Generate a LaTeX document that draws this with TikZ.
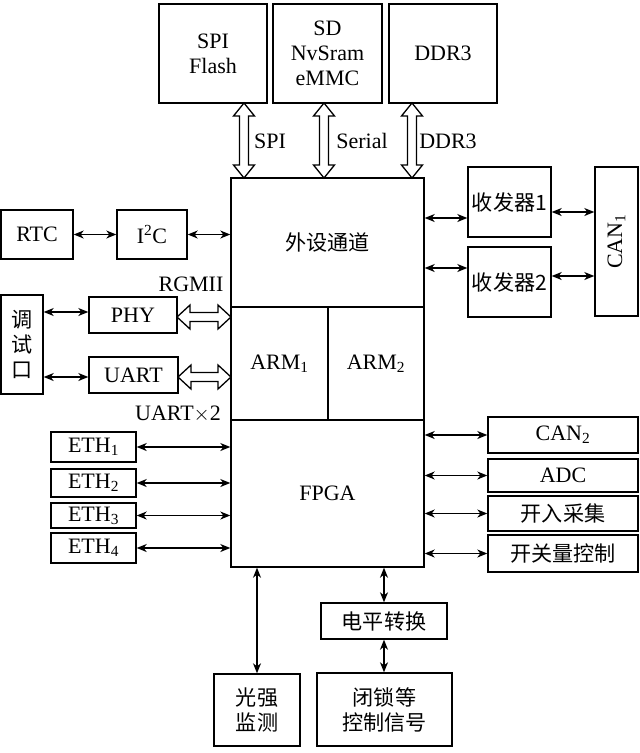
\documentclass[tikz,border=0pt]{standalone}
\usepackage{fontspec}
\setmainfont{Liberation Serif}
\newfontfamily\cjk{Noto Sans CJK SC}[Scale=0.96]
\usetikzlibrary{arrows.meta,calc}
\tikzset{
  box/.style={draw, line width=1.4pt, inner sep=0pt, align=center, font=\fontsize{22}{25}\selectfont},
  lab/.style={inner sep=0pt, font=\fontsize{22}{25}\selectfont},
  conn/.style={line width=1.2pt, {Stealth[length=10pt,width=8pt,inset=3pt]}-{Stealth[length=10pt,width=8pt,inset=3pt]}},
  wide/.style={draw, line width=1.3pt, line join=miter, fill=white}
}
\newcommand\bx[6]{\node[box, minimum width={(#4-#2)*1pt}, minimum height={(#5-#3)*1pt}] (#1) at ({(#2+#4)/2},{(#3+#5)/2}) {#6};}
% vertical wide double arrow: x, ytop, ybottom
\newcommand\vwa[3]{\draw[wide] (#1-4.5,#2+13) -- (#1-10.5,#2+13) -- (#1,#2) -- (#1+10.5,#2+13) -- (#1+4.5,#2+13) -- (#1+4.5,#3-13) -- (#1+10.5,#3-13) -- (#1,#3) -- (#1-10.5,#3-13) -- (#1-4.5,#3-13) -- cycle;}
% horizontal wide double arrow: y, xleft, xright
\newcommand\hwa[3]{\draw[wide] (#2+13,#1-4.5) -- (#2+13,#1-12) -- (#2,#1) -- (#2+13,#1+12) -- (#2+13,#1+4.5) -- (#3-13,#1+4.5) -- (#3-13,#1+12) -- (#3,#1) -- (#3-13,#1-12) -- (#3-13,#1-4.5) -- cycle;}
\begin{document}
\begin{tikzpicture}[x=1pt,y=-1pt]
\useasboundingbox (0,0) rectangle (640,753);
% top memories
\bx{spi}{159}{4}{267}{103}{SPI\\Flash}
\bx{sd}{273}{4}{382}{103}{SD\\NvSram\\eMMC}
\bx{ddr}{389}{4}{497}{103}{DDR3}
% main column
\bx{per}{231}{178}{424}{307}{\cjk 外设通道}
\bx{arma}{231}{307}{328}{420}{ARM\textsubscript{1}}
\bx{armb}{328}{307}{424}{420}{ARM\textsubscript{2}}
\bx{fpga}{231}{420}{424}{567}{FPGA}
% left
\bx{rtc}{1}{210}{73}{259}{RTC}
\bx{i2c}{117}{210}{187}{259}{I\textsuperscript{2}C}
\bx{dbg}{1}{295}{43}{394}{\fontsize{22}{28}\selectfont\cjk 调\\\fontsize{22}{28}\selectfont\cjk 试\\\fontsize{22}{28}\selectfont\cjk 口}
\bx{phy}{89}{297}{177}{333}{PHY}
\bx{uart}{89}{357}{178}{393}{UART}
\bx{etha}{51}{432}{136}{462}{ETH\textsubscript{1}}
\bx{ethb}{51}{469}{136}{497}{ETH\textsubscript{2}}
\bx{ethc}{51}{503}{136}{528}{ETH\textsubscript{3}}
\bx{ethd}{51}{533}{136}{563}{ETH\textsubscript{4}}
% right
\bx{tra}{468}{167}{551}{237}{\cjk 收发器1}
\bx{trb}{468}{247}{551}{317}{\cjk 收发器2}
\bx{cana}{595}{167}{638}{316}{}
\node[lab, rotate=90] (canatxt) at (cana) {CAN\textsubscript{1}};
\bx{canb}{488}{417}{638}{453}{CAN\textsubscript{2}}
\bx{adc}{488}{459}{638}{492}{ADC}
\bx{kr}{488}{496}{638}{531}{\cjk 开入采集}
\bx{kg}{488}{535}{638}{572}{\cjk 开关量控制}
% bottom
\bx{gq}{214}{674}{300}{746}{\cjk 光强\\\cjk 监测}
\bx{dp}{321}{603}{447}{639}{\cjk 电平转换}
\bx{bs}{317}{673}{452}{746}{\cjk 闭锁等\\\cjk 控制信号}
% labels
\node[lab] (lspi) at (270,141) {SPI};
\node[lab] (lser) at (362,141) {Serial};
\node[lab] (lddr) at (448,141) {DDR3};
\node[lab] (lrgm) at (191,284) {RGMII};
\node[lab] (luart) at (178,414) {UART$\times$2};
% wide arrows
\vwa{244}{103}{178}
\vwa{324}{103}{178}
\vwa{412}{103}{178}
\hwa{317}{177}{231}
\hwa{377}{178}{231}
% thin connectors
\draw[conn] (rtc.east) -- (i2c.west);
\draw[conn] (i2c.east) -- (i2c.east -| per.west);
\draw[conn] (dbg.east |- 0,312) -- (phy.west |- 0,312);
\draw[conn] (dbg.east |- 0,377) -- (uart.west |- 0,377);
\draw[conn] (per.east |- 0,218) -- (tra.west |- 0,218);
\draw[conn] (per.east |- 0,268) -- (trb.west |- 0,268);
\draw[conn] (tra.east |- 0,212) -- (cana.west |- 0,212);
\draw[conn] (trb.east |- 0,276) -- (cana.west |- 0,276);
\draw[conn] (etha.east) -- (etha.east -| fpga.west);
\draw[conn] (ethb.east) -- (ethb.east -| fpga.west);
\draw[conn] (ethc.east) -- (ethc.east -| fpga.west);
\draw[conn] (ethd.east) -- (ethd.east -| fpga.west);
\draw[conn] (canb.west -| fpga.east) -- (canb.west);
\draw[conn] (adc.west -| fpga.east) -- (adc.west);
\draw[conn] (kr.west -| fpga.east) -- (kr.west);
\draw[conn] (kg.west -| fpga.east) -- (kg.west);
\draw[conn] (fpga.south -| 257,0) -- (gq.north -| 257,0);
\draw[conn] (fpga.south -| dp.north) -- (dp.north);
\draw[conn] (dp.south) -- (dp.south |- bs.north);
\end{tikzpicture}
\end{document}
